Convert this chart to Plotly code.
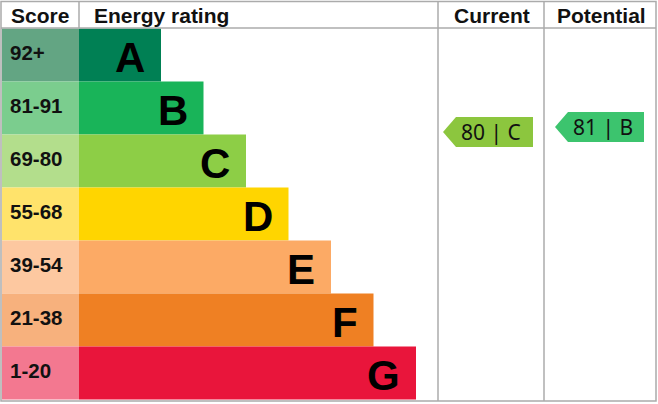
import plotly.graph_objects as go

# ---- data ----
bands = ["A", "B", "C", "D", "E", "F", "G"]
score_ranges = ["92+", "81-91", "69-80", "55-68", "39-54", "21-38", "1-20"]
bar_colors = ["#008054", "#19b459", "#8dce46", "#ffd500", "#fcaa65", "#ef8023", "#e9153b"]
score_colors = ["#63a583", "#7bcd8e", "#b3de8c", "#ffe36b", "#fdc8a0", "#f7b17d", "#f37890"]
columns = ["Current", "Potential"]
ratings = [80, 81]
rating_bands = ["C", "B"]
arrow_colors = ["#8cc63e", "#3cc46e"]

# ---- layout geometry (pixels) ----
W, H = 658, 404
header_h = 28.5
row_h = 53.0
score_x0, score_x1 = 2, 79
bar_base_w, bar_step = 82, 42.5
col_edges = [438, 544, 656]
arrow_pad_left = [5, 11]
arrow_pad_right = [11, 12]
grid = "#ababab"

fig = go.Figure()

centers = [header_h + (i + 0.5) * row_h for i in range(len(bands))]
widths = [bar_base_w + bar_step * i for i in range(len(bands))]

# score cells
fig.add_trace(go.Bar(
    orientation="h", y=centers, x=[score_x1 - score_x0] * len(bands), base=score_x0,
    width=row_h, marker=dict(color=score_colors, line=dict(width=0)),
    hoverinfo="skip", showlegend=False))
# rating bars
fig.add_trace(go.Bar(
    orientation="h", y=centers, x=widths, base=score_x1,
    width=row_h, marker=dict(color=bar_colors, line=dict(width=0)),
    hoverinfo="skip", showlegend=False))

# score labels
fig.add_trace(go.Scatter(
    x=[10] * len(bands), y=centers, mode="text", text=score_ranges,
    textposition="middle right",
    textfont=dict(family="Liberation Sans", size=20.5, color="#111111", weight="bold"),
    hoverinfo="skip", showlegend=False))

# band letters
for c, w, b in zip(centers, widths, bands):
    fig.add_annotation(x=score_x1 + w - 14, y=c + 2, text="<b>%s</b>" % b,
                       showarrow=False, xanchor="right", yanchor="middle",
                       font=dict(family="Liberation Sans", size=42, color="#000000"))

# rating arrows (vertical position from score)
def score_to_y(s):
    return 532 - 5 * s

arrow_h = 30
for k, (r, rb, col) in enumerate(zip(ratings, rating_bands, arrow_colors)):
    left = col_edges[k] + arrow_pad_left[k]
    right = col_edges[k + 1] - arrow_pad_right[k]
    yc = score_to_y(r)
    tip = 13
    xs = [left, left + tip, right, right, left + tip, left]
    ys = [yc, yc - arrow_h / 2, yc - arrow_h / 2, yc + arrow_h / 2, yc + arrow_h / 2, yc]
    fig.add_trace(go.Scatter(x=xs, y=ys, fill="toself", fillcolor=col, mode="lines",
                             line=dict(width=0, color=col), hoverinfo="skip", showlegend=False))
    fig.add_annotation(x=(left + right) / 2 + 3, y=yc, text="%d | %s" % (r, rb),
                       showarrow=False, xanchor="center", yanchor="middle",
                       font=dict(family="Noto Sans", size=21, color="#111111"))

# header texts
hdr_font = dict(family="Liberation Sans", size=21, color="#111111")
fig.add_annotation(x=40, y=15, text="<b>Score</b>", showarrow=False, xanchor="center",
                   yanchor="middle", font=hdr_font)
fig.add_annotation(x=92, y=15, text="<b>Energy rating</b>", showarrow=False, xanchor="left",
                   yanchor="middle", font=hdr_font)
for k, name in enumerate(columns):
    fig.add_annotation(x=(col_edges[k] + col_edges[k + 1]) / 2 + 1, y=15,
                       text="<b>%s</b>" % name, showarrow=False, xanchor="center",
                       yanchor="middle", font=hdr_font)

# grid lines
shapes = [
    dict(type="rect", x0=1, y0=1.5, x1=656, y1=401, line=dict(color=grid, width=1.5)),
    dict(type="line", x0=1, y0=28, x1=656, y1=28, line=dict(color=grid, width=1.5)),
    dict(type="line", x0=col_edges[0], y0=1.5, x1=col_edges[0], y1=401, line=dict(color=grid, width=1.5)),
    dict(type="line", x0=col_edges[1], y0=1.5, x1=col_edges[1], y1=401, line=dict(color=grid, width=1.5)),
    dict(type="line", x0=score_x1, y0=1.5, x1=score_x1, y1=28, line=dict(color=grid, width=1.5)),
]
for s in shapes:
    s["layer"] = "above"
fig.update_layout(shapes=shapes)

fig.update_layout(
    width=W, height=H, margin=dict(l=0, r=0, t=0, b=0),
    paper_bgcolor="white", plot_bgcolor="white", barmode="overlay",
    xaxis=dict(range=[0, W], visible=False, fixedrange=True),
    yaxis=dict(range=[H, 0], visible=False, fixedrange=True),
)

fig.write_html("out.html", config={"displayModeBar": False},
               post_script="document.body.style.margin='0';document.body.style.overflow='hidden';")
